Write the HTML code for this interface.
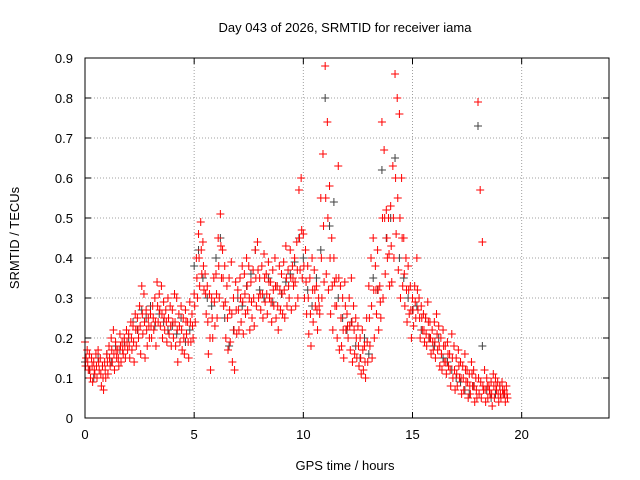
<!DOCTYPE html>
<html><head><meta charset="utf-8"><style>
body{margin:0;background:#fff;}
svg{display:block;font-family:"Liberation Sans",sans-serif;}
</style></head><body>
<svg id="chart" width="640" height="480">
<text x="345" y="32" font-size="13" text-anchor="middle">Day 043 of 2026, SRMTID for receiver iama</text>
<text x="19" y="238" font-size="13" text-anchor="middle" transform="rotate(-90 19 238)">SRMTID / TECUs</text>
<text x="345" y="470" font-size="13" text-anchor="middle">GPS time / hours</text>
<g id="grid"></g>
<g id="ticks"></g>
<g id="black"></g>
<g id="red"></g>
<rect x="85" y="58" width="524" height="360" fill="none" stroke="#000" stroke-width="1"/>
</svg>
<script>
const xTicks=[0,5,10,15,20];
const yTicks=[0,0.1,0.2,0.3,0.4,0.5,0.6,0.7,0.8,0.9];
const yTickLabels=["0","0.1","0.2","0.3","0.4","0.5","0.6","0.7","0.8","0.9"];
const redStart=0, redStep=0.1;
const redA=[.19,.17,.16,.15,.14,.16,.17,.15,.13,.14,
.16,.18,.20,.22,.19,.17,.21,.19,.20,.22,
.21,.24,.23,.26,.25,.28,.33,.31,.27,.25,
.26,.28,.30,.34,.31,.33,.29,.27,.30,.28,
.27,.31,.30,.26,.28,.25,.27,.24,.29,.26,
.31,.40,.46,.49,.44,.36,.33,.31,.30,.35,
.36,.45,.51,.42,.38,.33,.35,.39,.30,.34,
.32,.35,.38,.36,.40,.38,.34,.37,.42,.44,
.35,.38,.41,.36,.39,.34,.37,.40,.33,.38,
.36,.39,.43,.37,.42,.38,.40,.44,.57,.60,
.46,.42,.38,.35,.40,.37,.33,.30,.55,.66,
.88,.74,.58,.45,.40,.35,.63,.33,.30,.34,
.26,.30,.35,.28,.25,.23,.20,.22,.18,.25,
.33,.40,.45,.38,.42,.33,.74,.67,.52,.50,
.53,.63,.86,.80,.76,.60,.45,.40,.38,.33,
.30,.33,.40,.30,.28,.26,.25,.29,.24,.22,
.24,.26,.23,.20,.22,.18,.19,.16,.21,.18,
.15,.17,.14,.13,.16,.12,.11,.14,.12,.10,
.79,.57,.44,.12,.10,.08,.09,.11,.10,.09,
.08,.09,.07,.08];
const redB=[.15,.12,.10,.09,.11,.10,.12,.08,.07,.10,
.11,.13,.14,.12,.15,.13,.14,.16,.15,.17,
.15,.17,.14,.18,.20,.16,.21,.15,.18,.20,
.20,.22,.18,.24,.23,.20,.22,.19,.21,.18,
.20,.18,.14,.19,.17,.16,.21,.15,.19,.20,
.24,.30,.33,.36,.32,.26,.16,.12,.20,.23,
.25,.30,.35,.28,.20,.17,.19,.14,.12,.21,
.22,.24,.21,.26,.27,.22,.25,.23,.28,.30,
.27,.25,.29,.26,.30,.24,.28,.25,.22,.27,
.26,.25,.28,.30,.27,.33,.28,.30,.37,.35,
.30,.26,.21,.18,.24,.28,.22,.26,.30,.34,
.36,.32,.26,.22,.28,.20,.17,.18,.15,.22,
.20,.17,.14,.16,.15,.13,.11,.12,.10,.14,
.18,.15,.20,.26,.22,.25,.30,.36,.40,.33,
.34,.40,.46,.37,.30,.33,.28,.24,.26,.20,
.23,.25,.27,.20,.22,.19,.18,.20,.16,.17,
.15,.17,.13,.12,.14,.11,.13,.08,.10,.07,
.08,.10,.06,.07,.09,.05,.06,.08,.04,.05,
.06,.05,.07,.04,.05,.06,.03,.05,.07,.04,
.05,.06,.04,.05];
const redC=[.13,.14,.12,.13,.12,.13,.14,.11,.10,.12,
.14,.15,.17,.16,.17,.15,.18,.17,.18,.19,
.18,.20,.19,.22,.22,.23,.26,.24,.22,.23,
.23,.25,.24,.28,.27,.26,.25,.24,.25,.23,
.24,.24,.22,.23,.22,.20,.24,.19,.24,.23,
.28,.35,.40,.42,.38,.31,.24,.20,.25,.29,
.31,.38,.43,.35,.29,.25,.27,.26,.22,.27,
.27,.30,.29,.31,.33,.30,.29,.30,.35,.37,
.31,.31,.35,.31,.34,.29,.32,.33,.28,.32,
.31,.32,.35,.33,.35,.35,.34,.37,.45,.47,
.38,.34,.30,.26,.32,.32,.27,.28,.40,.48,
.55,.50,.40,.33,.34,.28,.35,.25,.22,.28,
.23,.23,.24,.22,.20,.18,.15,.17,.14,.19,
.25,.28,.32,.32,.32,.29,.50,.50,.45,.41,
.43,.50,.60,.55,.50,.45,.36,.32,.32,.27,
.27,.29,.32,.25,.25,.22,.21,.24,.20,.19,
.19,.21,.18,.16,.18,.14,.16,.12,.15,.12,
.11,.13,.10,.10,.12,.09,.08,.11,.08,.07,
.10,.09,.08,.07,.08,.07,.06,.08,.08,.06,
.06,.07,.06,.06];
const blackStart=0, blackStep=0.2;
const blackVals=[.14,.12,.10,.15,.13,.16,.14,.18,.17,.19,
.20,.24,.22,.27,.25,.28,.23,.26,.24,.22,
.23,.21,.25,.19,.22,.38,.42,.35,.30,.28,
.40,.45,.25,.18,.22,.30,.28,.33,.36,.42,
.32,.30,.35,.29,.33,.31,.34,.36,.39,.45,
.40,.32,.28,.35,.42,.80,.48,.54,.30,.25,
.22,.24,.18,.15,.20,.16,.35,.32,.62,.45,
.50,.65,.40,.35,.30,.27,.28,.22,.25,.20,
.18,.20,.15,.14,.12,.10,.09,.07,.06,.08,
.73,.18,.07,.05,.06,.08,.06];
const X0=85,X1=609,Y0=418,Y1=58;
const sx=v=>X0+(v-0)/24*(X1-X0);
const sy=v=>Y0-(v-0)/0.9*(Y0-Y1);
const NS="http://www.w3.org/2000/svg";
function mk(tag,attrs,parent){const e=document.createElementNS(NS,tag);for(const k in attrs)e.setAttribute(k,attrs[k]);parent.appendChild(e);return e;}
const grid=document.getElementById('grid'),ticks=document.getElementById('ticks');
xTicks.forEach(t=>{const x=sx(t);
 if(t>0){const l=mk('line',{x1:x,x2:x,y1:Y1,y2:Y0,stroke:'#a0a0a0','stroke-dasharray':'1,2'},grid);
 
 }
 mk('line',{x1:x,x2:x,y1:Y0,y2:Y0-6,stroke:'#000'},ticks);
 mk('line',{x1:x,x2:x,y1:Y1,y2:Y1+6,stroke:'#000'},ticks);
 const tx=mk('text',{x:x,y:Y0+21,'font-size':13,'text-anchor':'middle'},ticks);tx.textContent=t;
 
 
});
yTicks.forEach((t,i)=>{const y=sy(t);
 if(i>0&&i<yTicks.length-1){const l=mk('line',{x1:X0,x2:X1,y1:y,y2:y,stroke:'#a0a0a0','stroke-dasharray':'1,2'},grid);
 
 }
 mk('line',{x1:X0,x2:X0+6,y1:y,y2:y,stroke:'#000'},ticks);
 mk('line',{x1:X1,x2:X1-6,y1:y,y2:y,stroke:'#000'},ticks);
 const tx=mk('text',{x:X0-12,y:y+5,'font-size':13,'text-anchor':'end'},ticks);tx.textContent=yTickLabels[i];
 
 
});
function plus(g,t,v,col){const x=sx(t),y=sy(v);
 const p=mk('path',{d:`M${x-4},${y}h8M${x},${y-4}v8`,stroke:col,'stroke-width':1},g);
 
 }
const bg=document.getElementById('black'),rg=document.getElementById('red');
blackVals.forEach((v,i)=>plus(bg,blackStart+i*blackStep,v,'#404040'));
redA.forEach((v,i)=>plus(rg,redStart+i*redStep,v,'#ff0000'));
redB.forEach((v,i)=>plus(rg,redStart+i*redStep+0.05,v,'#ff0000'));
redC.forEach((v,i)=>plus(rg,redStart+i*redStep+0.025,v,'#ff0000'));
</script>
</body></html>
